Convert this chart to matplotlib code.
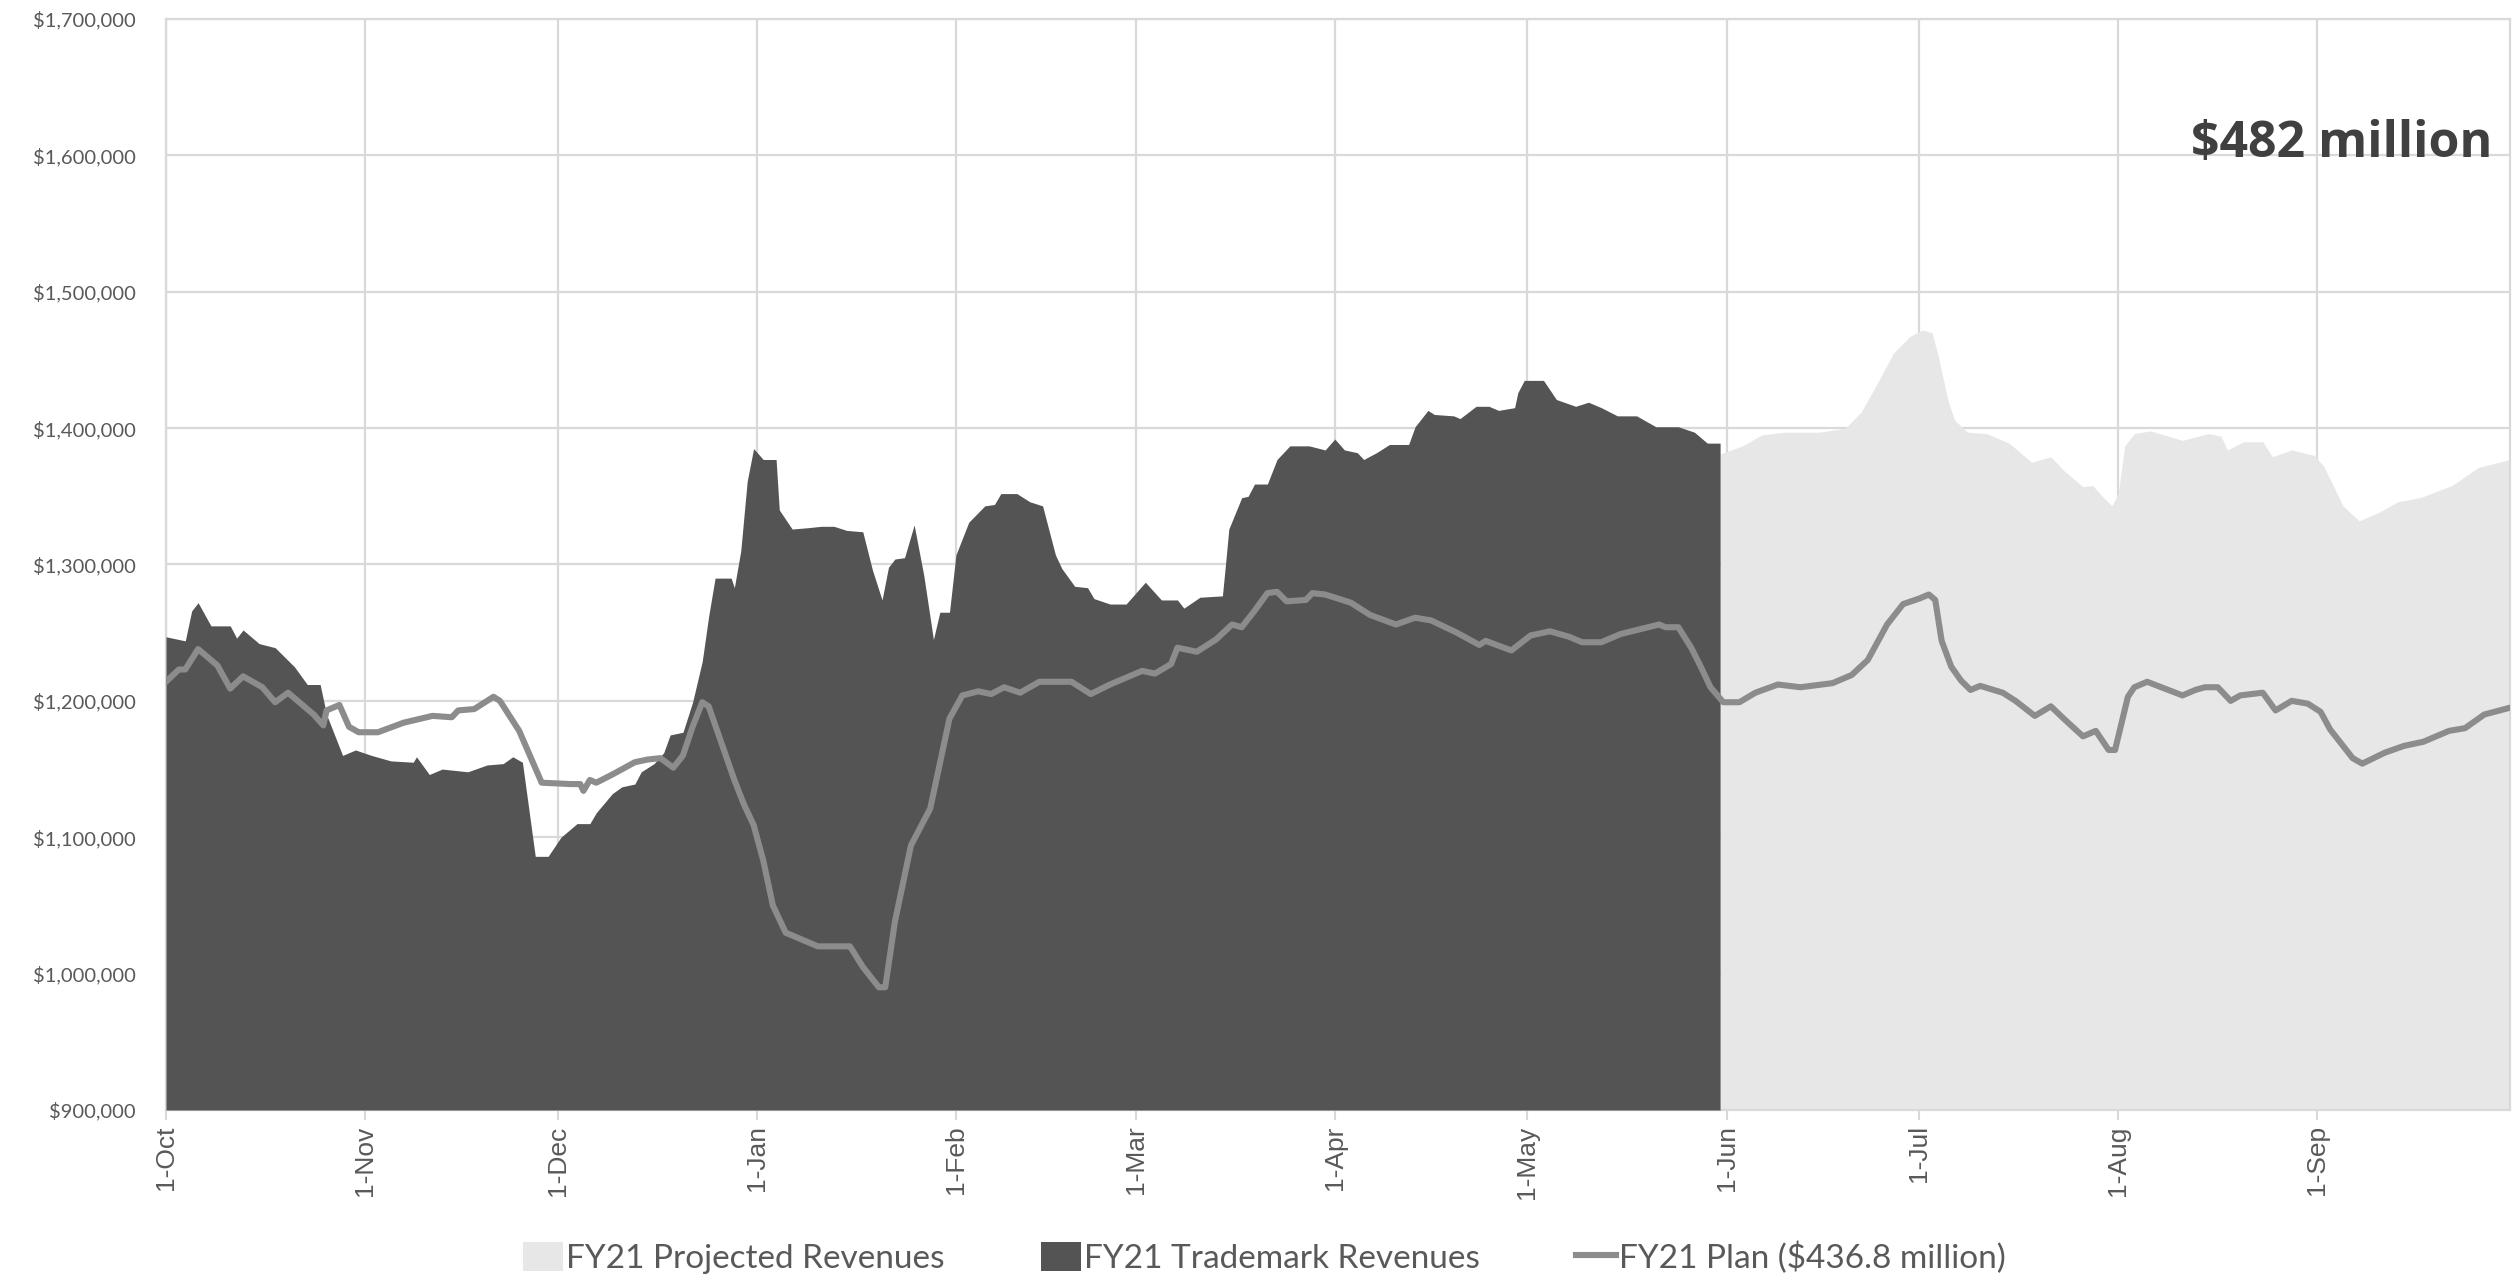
import matplotlib
matplotlib.use("Agg")
import matplotlib.pyplot as plt
from matplotlib.patches import Patch
from matplotlib.lines import Line2D
from matplotlib.ticker import FuncFormatter
import pandas as pd

# ---------------- data (days since 1-Oct-2020, values in $) ----------------
trademark_days = [0, 3, 4, 5, 7, 10, 11, 12, 14.5, 17, 20, 22, 24, 25, 27.5, 29.5, 32, 35, 38.5, 39,
                  41, 43, 47, 50, 52.5, 54, 55.5, 57.5, 59.5, 61.5, 64, 66, 67, 69.5, 71, 73, 74, 76,
                  77.5, 78.5, 80.5, 82, 83.5, 84.5, 85.5, 88, 88.5, 89.5, 90.5, 91.5, 93, 95, 95.5,
                  97.5, 100, 102, 104, 106, 108.5, 110, 111.5, 112.5, 113.5, 115, 116.5, 118, 119.5,
                  120.5, 122, 123, 125, 127.5, 129, 130, 132.5, 134.5, 136.5, 138.5, 139.5, 141.5,
                  143.5, 144.5, 147, 149.5, 152.5, 155, 157.5, 158.5, 161, 164.5, 165, 165.5, 167.5,
                  168.5, 169.5, 171.5, 173, 175, 178, 180.5, 182, 183.5, 185.5, 186.5, 188.5, 190.5,
                  193.5, 194.5, 196.5, 197.5, 200.5, 201.5, 204, 206, 207.5, 210, 210.5, 211.5, 214.5,
                  216.5, 219.5, 221.5, 223.5, 226, 229, 232, 235.5, 238, 240, 242]
trademark_vals = [1247, 1244, 1266, 1272, 1255, 1255, 1246, 1252, 1242, 1239, 1225, 1212, 1212, 1190,
                  1160, 1164, 1160, 1156, 1155, 1159, 1146, 1150, 1148, 1153, 1154, 1159, 1155, 1086,
                  1086, 1100, 1110, 1110, 1118, 1132, 1137, 1139, 1148, 1154, 1162, 1175, 1177, 1199,
                  1229, 1262, 1290, 1290, 1283, 1310, 1361, 1385, 1377, 1377, 1340, 1326, 1327, 1328,
                  1328, 1325, 1324, 1296, 1274, 1298, 1304, 1305, 1329, 1292, 1245, 1265, 1265, 1307,
                  1331, 1343, 1344, 1352, 1352, 1346, 1343, 1307, 1297, 1284, 1283, 1275, 1271, 1271,
                  1287, 1274, 1274, 1268, 1276, 1277, 1301, 1326, 1349, 1350, 1359, 1359, 1377, 1387,
                  1387, 1384, 1392, 1384, 1382, 1377, 1382, 1388, 1388, 1401, 1413, 1410, 1409, 1407,
                  1416, 1416, 1413, 1415, 1426, 1435, 1435, 1421, 1416, 1419, 1415, 1409, 1409, 1401,
                  1401, 1397, 1389, 1389]

projected_days = [242, 245.5, 248.5, 252, 257.5, 261.5, 264, 266.5, 269, 271.5, 273.5, 275, 276,
                  277.5, 278.5, 280.5, 283.5, 287, 290.5, 293.5, 295.5, 298.5, 300, 301.5, 303, 304,
                  305, 306.5, 309, 314, 318, 320, 321, 323.5, 326.5, 328, 331, 334.5, 336, 339,
                  341.5, 344.5, 347.5, 351, 356, 360, 365]
projected_vals = [1381, 1387, 1395, 1397, 1397, 1400, 1412, 1433, 1455, 1467, 1472, 1470, 1452, 1420,
                  1406, 1397, 1396, 1389, 1375, 1379, 1369, 1357, 1358, 1350, 1343, 1352, 1387, 1396,
                  1398, 1391, 1396, 1394, 1384, 1390, 1390, 1379, 1384, 1380, 1372, 1343, 1332, 1338,
                  1346, 1349, 1358, 1371, 1377]

plan_days = [0, 2, 3, 5, 8, 10, 12, 15, 17, 19, 21, 23, 24.5, 25, 27, 28.5, 30, 33, 37, 41.5, 44.5,
             45.5, 48, 51, 52, 55, 58.5, 63, 64.5, 65, 66, 67, 69.5, 73, 75, 77, 79, 80.5, 82, 83.5,
             84.5, 86.5, 88.5, 90, 91.5, 93, 94.5, 96.5, 99.5, 101.5, 106.5, 108.5, 111, 112, 113.5,
             116, 119, 120.5, 122, 124, 126.5, 128.5, 130.5, 133, 136, 141, 144, 147, 152, 154,
             156.5, 157.5, 160.5, 163.5, 166, 167.5, 169.5, 171.5, 173, 174.5, 177.5, 178.5, 180.5,
             184.5, 187.5, 191.5, 194.5, 197, 201, 204.5, 205.5, 209.5, 212.5, 215.5, 218.5, 220.5,
             223.5, 226.5, 232.5, 233.5, 235.5, 237.5, 239, 240.5, 242.5, 245, 247.5, 251, 254.5,
             259.5, 262.5, 265, 268, 270.5, 273, 274.5, 275.5, 276.5, 278, 279.5, 281, 282.5, 286,
             288, 291, 293.5, 295.5, 298.5, 300.5, 302.5, 303.5, 305.5, 306.5, 308.5, 314, 316,
             317.5, 319.5, 321.5, 323, 326.5, 328.5, 331, 333.5, 335.5, 337, 340.5, 342, 345.5,
             348.5, 351.5, 355.5, 358, 361, 365]
plan_vals = [1214, 1223, 1223, 1238, 1226, 1209, 1218, 1210, 1199, 1206, 1198, 1190, 1182, 1193, 1197,
             1181, 1177, 1177, 1184, 1189, 1188, 1193, 1194, 1203, 1200, 1178, 1140, 1139, 1139, 1134,
             1142, 1140, 1146, 1155, 1157, 1158, 1151, 1160, 1181, 1199, 1196, 1169, 1142, 1124, 1109,
             1083, 1050, 1030, 1024, 1020, 1020, 1005, 990, 990, 1038, 1094, 1121, 1154, 1187, 1204,
             1207, 1205, 1210, 1206, 1214, 1214, 1205, 1212, 1222, 1220, 1227, 1239, 1236, 1245, 1256,
             1254, 1266, 1279, 1280, 1273, 1274, 1279, 1278, 1272, 1263, 1256, 1261, 1259, 1250, 1241,
             1244, 1237, 1248, 1251, 1247, 1243, 1243, 1249, 1256, 1254, 1254, 1239, 1225, 1210, 1199,
             1199, 1206, 1212, 1210, 1213, 1219, 1230, 1256, 1271, 1275, 1278, 1274, 1244, 1225, 1215,
             1208, 1211, 1206, 1200, 1189, 1196, 1187, 1174, 1178, 1164, 1164, 1203, 1210, 1214, 1204,
             1208, 1210, 1210, 1200, 1204, 1206, 1193, 1200, 1198, 1192, 1179, 1158, 1154, 1162, 1167,
             1170, 1178, 1180, 1190, 1195]

trademark_vals = [v * 1000 for v in trademark_vals]
projected_vals = [v * 1000 for v in projected_vals]
plan_vals = [v * 1000 for v in plan_vals]

legend_labels = ["FY21 Projected Revenues", "FY21 Trademark Revenues", "FY21 Plan ($436.8 million)"]
annotation_text = "$482 million"
start_date = "2020-10-01"

# ---------------- styling ----------------
DARK = "#545454"
LIGHT = "#e7e7e7"
LINE = "#8c8c8c"
GRID = "#d9d9d9"
TXT = "#595959"

fig = plt.figure(figsize=(25.14, 12.82), dpi=100)
ax = fig.add_axes([166 / 2514, 1 - 1110 / 1282, (2510 - 166) / 2514, (1110 - 19) / 1282])

ax.fill_between(projected_days, 900000, projected_vals, color=LIGHT, linewidth=0, zorder=2)
ax.fill_between(trademark_days, 900000, trademark_vals, color=DARK, linewidth=0, zorder=3)
ax.plot(plan_days, plan_vals, color=LINE, linewidth=4.4, solid_joinstyle="round", zorder=4)

ax.set_xlim(0, 365)
ax.set_ylim(900000, 1700000)

# month ticks
months = pd.date_range(start_date, periods=12, freq="MS")
base = pd.Timestamp(start_date)
tick_pos = [(m - base).days for m in months]
tick_lab = [f"1-{m.strftime('%b')}" for m in months]
ax.set_xticks(tick_pos)
ax.set_xticklabels(tick_lab, rotation=90, fontsize=19, color=TXT, family="Liberation Sans")
ax.set_yticks(range(900000, 1700001, 100000))
ax.yaxis.set_major_formatter(FuncFormatter(lambda v, p: f"${v:,.0f}"))
for lab in ax.get_yticklabels():
    lab.set_family("Lato")
ax.tick_params(axis="y", length=0, pad=22, labelsize=14.5, labelcolor=TXT)
ax.tick_params(axis="x", length=7, width=1.5, color=GRID, pad=4)

ax.grid(True, color=GRID, linewidth=1.6, zorder=0)
ax.set_axisbelow(True)
for s in ax.spines.values():
    s.set_color(GRID)
    s.set_linewidth(1.6)

ax.text(0.9925, 0.885, annotation_text, transform=ax.transAxes, ha="right", va="center",
        fontsize=36, fontweight="bold", color="#404040", family="Open Sans", zorder=6)

handles = [Patch(facecolor=LIGHT, edgecolor="none"),
           Patch(facecolor=DARK, edgecolor="none"),
           Line2D([0], [0], color=LINE, linewidth=4.4)]
fig.legend(handles, legend_labels, loc="center", bbox_to_anchor=(0.503, 0.019), ncol=3,
           frameon=False, prop={"family": "Lato", "size": 24}, labelcolor=TXT,
           handlelength=1.2, handleheight=0.95, handletextpad=0.08, columnspacing=2.9)

fig.savefig("out.png", dpi=100)
